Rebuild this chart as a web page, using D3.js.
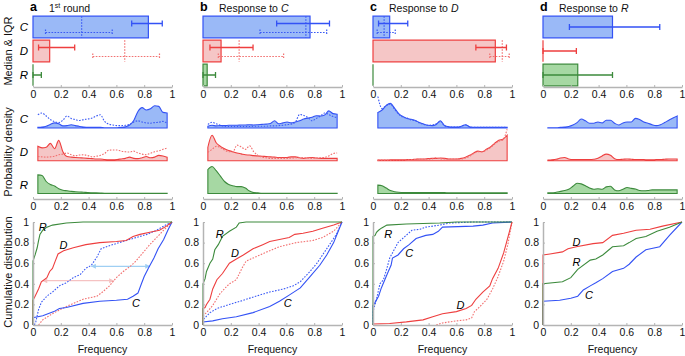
<!DOCTYPE html>
<html><head><meta charset="utf-8">
<script src="https://cdn.jsdelivr.net/npm/d3@7"></script>
<style>
body{margin:0;background:#fff;}
svg{display:block;font-family:"Liberation Sans",Arial,Helvetica,sans-serif;}
</style></head><body>
<svg id="chart" width="685" height="356"></svg>
<script>
// ---------- categories / ticks ----------
const panelLetters = ["a","b","c","d"];
const panelTitleText = ["1","Response to ","Response to ","Response to "];
const panelTitleItalic = ["","C","D","R"];
const categories = ["C","D","R"];
const xTicks = [0,0.2,0.4,0.6,0.8,1];
const xTickLabels = ["0","0.2","0.4","0.6","0.8","1"];
const yTicks = [0,0.2,0.4,0.6,0.8,1];
const yTickLabels = ["0","0.2","0.4","0.6","0.8","1"];

// ---------- Median & IQR (per panel, per category C,D,R) ----------
const medSolid    = [[0.83,0.12,0],[0.77,0.13,0.03],[0.12,0.88,0],[0.5,0,0.25]];
const iqrLoSolid  = [[0.71,0.04,0],[0.53,0.05,0],[0.04,0.74,null],[0.19,0,0]];
const iqrHiSolid  = [[0.93,0.30,0.06],[0.91,0.36,0.09],[0.25,0.96,null],[0.84,0.24,0.5]];
const medDotted   = [[0.35,0.66,null],[0.74,0.26,null],[0.08,0.93,null],[null,null,null]];
const iqrLoDotted = [[0.09,0.43,null],[0.41,0.11,null],[0.03,0.84,null],[null,null,null]];
const iqrHiDotted = [[0.57,0.91,null],[0.89,0.58,null],[0.16,0.98,null],[null,null,null]];

// ---------- Probability density ----------
const densityX = [0.035,0.065,0.095,0.125,0.155,0.185,0.215,0.245,0.275,0.305,0.335,0.365,0.395,0.425,0.455,0.485,
                  0.515,0.545,0.575,0.605,0.635,0.665,0.695,0.725,0.755,0.785,0.815,0.845,0.875,0.905,0.935,0.965];
const densA_C    = [0.2,0.3,0.6,1.2,1.7,1.4,0.7,0.8,1.1,0.8,0.5,0.3,0.2,0.2,0.2,0.2,0.1,0.1,0.1,0.1,0.2,0.4,1.0,2.5,5.5,6.8,6.0,6.4,7.4,7.2,5.2,5.0];
const densA_Cdot = [4.4,5.0,4.0,2.8,2.1,1.8,2.6,4.0,3.2,2.8,2.5,2.8,3.0,3.3,4.0,4.4,2.2,1.3,1.0,0.8,0.8,0.9,1.2,2.0,2.4,2.0,1.7,1.6,1.8,1.9,2.2,1.5];
const densA_D    = [4.8,4.3,4.5,5.8,4.0,6.8,3.0,1.4,1.2,1.1,1.0,0.9,0.8,0.7,0.6,0.6,0.4,0.3,0.3,0.4,0.6,0.8,1.2,0.8,0.7,1.0,1.4,1.0,1.2,1.8,1.6,1.2];
const densA_Ddot = [1.4,1.3,1.2,1.3,1.5,2.0,2.2,2.6,2.0,1.7,1.9,2.0,1.7,1.3,1.5,1.8,2.4,3.5,3.6,3.6,3.2,3.0,2.9,3.2,2.6,2.2,2.0,2.5,3.0,3.3,3.8,4.2];
const densA_R    = [6.2,6.0,4.0,3.0,2.5,1.6,1.1,0.9,0.7,0.6,0.5,0.4,0.3,0.25,0.2,0.15,0.1,0.1,0.1,0.1,0.1,0.1,0.1,0.1,0.1,0.1,0.1,0.1,0.1,0.1,0.1,0.1];

const densB_C    = [0.6,0.9,0.7,0.8,0.8,0.9,0.9,0.9,1.0,1.0,1.1,1.0,1.1,1.2,1.3,1.5,2.4,1.4,1.7,2.0,1.7,2.0,2.4,3.0,3.3,3.6,4.1,4.0,4.3,5.7,4.8,4.6];
const densB_Cdot = [1.2,1.9,1.4,0.9,0.6,0.5,0.5,0.5,0.5,0.5,0.5,0.6,0.6,0.6,0.6,0.7,0.7,0.8,0.9,1.1,1.3,2.0,4.5,4.2,3.5,2.4,3.2,4.0,5.0,4.5,3.8,3.5];
const densB_D    = [4.5,8.5,6.0,4.8,4.0,3.4,3.0,2.6,2.3,2.0,1.9,1.7,1.6,1.5,1.4,1.3,1.2,1.1,1.1,1.1,1.3,1.3,1.0,0.8,1.0,1.1,0.9,0.8,0.8,0.8,0.8,0.8];
const densB_Ddot = [2.8,3.8,4.8,4.4,3.6,3.0,3.0,5.2,4.6,3.8,5.0,3.0,1.8,1.2,1.0,0.8,0.8,0.8,0.8,0.8,0.9,1.0,1.1,1.0,0.9,0.8,0.9,1.0,1.1,1.6,2.4,2.6];
const densB_R    = [8.0,9.0,7.6,5.8,4.0,3.0,2.6,2.3,2.3,1.8,0.8,0.3,0.2,0.1,0.1,0.1,0.1,0.1,0.1,0.1,0.1,0.1,0.1,0.1,0.1,0.1,0.1,0.1,0.1,0.1,0.1,0.1];

const densC_C    = [5.2,6.0,7.5,8.2,6.6,4.8,3.8,3.2,2.9,2.5,1.8,1.3,0.9,0.8,1.2,2.4,0.8,0.4,0.3,0.3,0.6,1.1,0.4,0.2,0.2,0.2,0.2,0.2,0.2,0.2,0.2,0.2];
const densC_Cdot = [10.5,6.5,7.5,8.0,6.3,4.6,3.6,3.3,2.7,2.4,1.7,1.2,0.9,1.0,1.4,2.2,0.7,0.4,0.3,0.3,0.5,1.0,0.4,0.2,0.2,0.2,0.2,0.2,0.2,0.2,0.2,0.2];
const densC_D    = [0.2,0.2,0.2,0.3,0.3,0.3,0.3,0.4,0.4,0.5,0.6,0.6,0.7,0.8,0.8,0.9,0.8,0.6,0.6,0.6,0.8,1.2,1.8,2.6,3.2,3.0,3.8,4.6,5.8,6.8,7.2,8.5];
const densC_Ddot = [0.2,0.2,0.2,0.2,0.3,0.3,0.3,0.3,0.4,0.4,0.5,0.5,0.5,0.6,1.0,0.6,0.6,0.6,0.6,0.6,0.6,0.9,1.5,2.4,3.0,3.0,3.5,4.4,5.6,6.5,7.0,10.5];
const densC_R    = [2.8,2.6,1.8,1.0,0.6,0.4,0.3,0.3,0.3,0.3,0.3,0.3,0.3,0.35,0.35,0.35,0.3,0.2,0.2,0.2,0.2,0.2,0.2,0.2,0.2,0.2,0.2,0.2,0.2,0.2,0.2,0.2];

const densD_C    = [0.1,0.1,0.1,0.2,0.3,0.5,1.0,1.8,3.0,2.4,1.6,1.6,2.0,1.7,2.6,2.6,1.6,1.0,1.7,2.0,2.0,3.2,2.8,2.0,1.6,1.1,0.8,1.1,1.8,2.6,3.3,4.0];
const densD_D    = [0.2,0.3,0.5,0.9,1.1,0.6,0.4,0.4,0.4,0.4,0.4,0.5,0.8,1.6,2.2,1.8,0.7,0.4,0.5,0.6,0.5,0.4,0.4,0.4,0.3,0.3,0.4,0.4,0.5,0.6,0.6,0.6];
const densD_R    = [0.2,0.2,0.4,0.7,1.0,1.4,2.4,3.4,3.2,2.6,1.8,1.4,1.6,1.4,2.2,2.4,1.2,0.9,1.4,2.0,1.7,1.5,1.0,0.9,1.0,1.2,1.2,1.2,1.2,1.2,1.2,1.2];

const densSolid  = [[densA_C,densA_D,densA_R],[densB_C,densB_D,densB_R],[densC_C,densC_D,densC_R],[densD_C,densD_D,densD_R]];
const densDotted = [[densA_Cdot,densA_Ddot,null],[densB_Cdot,densB_Ddot,null],[densC_Cdot,densC_Ddot,null],[null,null,null]];

// ---------- Cumulative distribution ([frequency, F]) ----------
const cdfA_C    = [[0,0],[0,0.07],[0.07,0.09],[0.15,0.13],[0.19,0.16],[0.24,0.17],[0.36,0.21],[0.48,0.23],[0.6,0.24],[0.68,0.25],[0.72,0.28],[0.755,0.31],[0.78,0.40],[0.8,0.47],[0.83,0.55],[0.87,0.65],[0.9,0.74],[0.94,0.83],[0.97,0.92],[1,1]];
const cdfA_Cdot = [[0.01,0],[0.02,0.03],[0.04,0.15],[0.06,0.22],[0.1,0.28],[0.14,0.32],[0.19,0.38],[0.24,0.41],[0.29,0.46],[0.34,0.49],[0.38,0.55],[0.42,0.58],[0.46,0.66],[0.49,0.74],[0.55,0.77],[0.62,0.80],[0.72,0.84],[0.82,0.88],[0.89,0.92],[0.94,0.96],[1,1]];
const cdfA_D    = [[0,0],[0,0.24],[0.015,0.28],[0.04,0.35],[0.06,0.42],[0.1,0.46],[0.12,0.52],[0.14,0.55],[0.16,0.62],[0.18,0.69],[0.22,0.72],[0.29,0.75],[0.38,0.78],[0.48,0.80],[0.6,0.81],[0.67,0.82],[0.72,0.86],[0.77,0.88],[0.84,0.90],[0.91,0.92],[0.96,0.96],[1,1]];
const cdfA_Ddot = [[0.04,0],[0.07,0.05],[0.14,0.11],[0.24,0.18],[0.36,0.25],[0.46,0.28],[0.5,0.32],[0.55,0.38],[0.6,0.46],[0.65,0.52],[0.7,0.57],[0.74,0.62],[0.79,0.70],[0.84,0.78],[0.89,0.85],[0.94,0.92],[1,1]];
const cdfA_R    = [[0,0],[0,0.62],[0.015,0.68],[0.03,0.75],[0.04,0.82],[0.05,0.88],[0.07,0.92],[0.1,0.95],[0.14,0.97],[0.24,0.99],[0.36,1],[1,1]];

const cdfB_C    = [[0,0],[0,0.03],[0.07,0.04],[0.14,0.06],[0.24,0.08],[0.36,0.12],[0.48,0.18],[0.55,0.23],[0.62,0.29],[0.7,0.36],[0.77,0.47],[0.84,0.58],[0.89,0.68],[0.94,0.80],[0.97,0.90],[1,1]];
const cdfB_Cdot = [[0,0],[0,0.05],[0.05,0.12],[0.1,0.16],[0.19,0.20],[0.29,0.24],[0.38,0.28],[0.48,0.32],[0.58,0.35],[0.65,0.38],[0.7,0.42],[0.77,0.52],[0.82,0.60],[0.86,0.68],[0.91,0.78],[0.96,0.88],[1,1]];
const cdfB_D    = [[0,0],[0,0.16],[0.015,0.17],[0.025,0.2],[0.05,0.25],[0.07,0.35],[0.1,0.44],[0.14,0.50],[0.19,0.60],[0.24,0.64],[0.29,0.68],[0.36,0.74],[0.43,0.78],[0.48,0.81],[0.55,0.83],[0.62,0.85],[0.66,0.88],[0.72,0.89],[0.79,0.91],[0.86,0.94],[0.94,0.97],[1,1]];
const cdfB_Ddot = [[0,0],[0,0.09],[0.025,0.12],[0.07,0.19],[0.12,0.30],[0.16,0.36],[0.19,0.40],[0.24,0.44],[0.28,0.55],[0.31,0.62],[0.36,0.65],[0.46,0.71],[0.55,0.76],[0.67,0.80],[0.79,0.82],[0.86,0.85],[0.94,0.91],[1,1]];
const cdfB_R    = [[0,0],[0,0.40],[0.015,0.45],[0.025,0.52],[0.05,0.60],[0.07,0.64],[0.085,0.73],[0.11,0.78],[0.14,0.86],[0.19,0.91],[0.24,0.95],[0.26,0.99],[0.31,1],[1,1]];

const cdfC_C    = [[0,0],[0,0.19],[0.015,0.22],[0.04,0.28],[0.06,0.36],[0.085,0.44],[0.11,0.52],[0.13,0.58],[0.14,0.65],[0.18,0.68],[0.22,0.74],[0.26,0.78],[0.31,0.84],[0.38,0.87],[0.43,0.88],[0.47,0.91],[0.5,0.95],[0.72,0.96],[0.79,0.97],[0.86,0.99],[1,1]];
const cdfC_Cdot = [[0,0],[0,0.13],[0.025,0.25],[0.05,0.40],[0.075,0.44],[0.1,0.55],[0.12,0.65],[0.14,0.70],[0.18,0.80],[0.23,0.86],[0.28,0.92],[0.34,0.93],[0.38,0.95],[0.48,0.97],[0.55,0.99],[0.72,1],[1,1]];
const cdfC_D    = [[0,0],[0,0.01],[0.12,0.015],[0.24,0.03],[0.36,0.05],[0.43,0.08],[0.5,0.11],[0.6,0.13],[0.67,0.16],[0.71,0.19],[0.74,0.25],[0.79,0.32],[0.84,0.38],[0.86,0.45],[0.9,0.55],[0.94,0.70],[0.96,0.80],[0.98,0.90],[1,1]];
const cdfC_Ddot = [[0.455,0],[0.5,0.02],[0.6,0.04],[0.67,0.05],[0.71,0.07],[0.73,0.13],[0.77,0.18],[0.82,0.25],[0.86,0.35],[0.9,0.47],[0.94,0.62],[0.97,0.78],[1,1]];
const cdfC_R    = [[0,0],[0,0.86],[0.015,0.87],[0.025,0.9],[0.04,0.92],[0.06,0.94],[0.1,0.97],[0.24,0.98],[0.48,0.99],[0.6,1],[1,1]];

const cdfD_C    = [[0,0],[0,0.23],[0.12,0.24],[0.2,0.26],[0.25,0.28],[0.29,0.34],[0.34,0.38],[0.38,0.41],[0.43,0.45],[0.5,0.52],[0.58,0.55],[0.62,0.59],[0.67,0.66],[0.74,0.73],[0.84,0.76],[0.91,0.87],[1,1]];
const cdfD_D    = [[0,0],[0,0.68],[0.05,0.69],[0.14,0.71],[0.18,0.74],[0.24,0.76],[0.36,0.79],[0.43,0.80],[0.5,0.87],[0.58,0.89],[0.67,0.92],[0.77,0.93],[0.86,0.96],[1,1]];
const cdfD_R    = [[0,0],[0,0.40],[0.14,0.42],[0.2,0.46],[0.25,0.54],[0.34,0.63],[0.38,0.64],[0.43,0.68],[0.5,0.76],[0.58,0.77],[0.62,0.80],[0.67,0.84],[0.74,0.86],[0.82,0.91],[0.91,0.95],[1,1]];

const cdfSolid  = [[cdfA_C,cdfA_D,cdfA_R],[cdfB_C,cdfB_D,cdfB_R],[cdfC_C,cdfC_D,cdfC_R],[cdfD_C,cdfD_D,cdfD_R]];
const cdfDotted = [[cdfA_Cdot,cdfA_Ddot,null],[cdfB_Cdot,cdfB_Ddot,null],[cdfC_Cdot,cdfC_Ddot,null],[null,null,null]];

// curve label anchors (frequency, F) for C, D, R
const cdfLabelX = [[0.74,0.22,0.07],[0.61,0.23,0.12],[0.26,0.63,0.11],[0.33,0.24,0.24]];
const cdfLabelY = [[0.21,0.78,0.95],[0.21,0.70,0.886],[0.70,0.195,0.886],[0.29,0.80,0.61]];

// double arrows in panel a (shift between curves)
const arrowF  = [0.57, 0.43];
const arrowX1 = [0.42, 0.07];
const arrowX2 = [0.84, 0.58];

// ---------- styles ----------
const strokeCol = {C:"#3352f5", D:"#ee3f3f", R:"#3c8a3c"};
const fillCol   = {C:"#9ab9f7", D:"#f5c6c6", R:"#a6d8a3"};
const dotCol    = {C:"#3a5af5", D:"#f27070"};
const arrowCol  = ["#9fcff3", "#f5c2c2"];
const axisCol   = "#b4b4b4";

const svg = d3.select("#chart");
const defs = svg.append("defs");
arrowCol.forEach((c,k)=>{
  defs.append("marker").attr("id","ah"+k).attr("viewBox","0 0 10 10")
    .attr("refX",9).attr("refY",5).attr("markerWidth",6).attr("markerHeight",5)
    .attr("orient","auto-start-reverse").attr("markerUnits","userSpaceOnUse")
    .append("path").attr("d","M0,0 L10,5 L0,10 Z").attr("fill",c);
});

const FS = 10.5;

// vertical axis titles
[["Median & IQR",51],["Probability density",152],["Cumulative distribution",272]].forEach(([t,cy])=>{
  svg.append("text").attr("transform",`translate(12,${cy}) rotate(-90)`)
    .attr("text-anchor","middle").attr("font-size",11).attr("fill","#111").text(t);
});

function styleAxis(g){
  g.select(".domain").attr("stroke",axisCol).attr("stroke-width",1.5);
  g.selectAll(".tick line").attr("stroke",axisCol).attr("stroke-width",1);
  g.selectAll(".tick text").attr("fill","#111").attr("font-size",FS).attr("font-family",null);
}

panelLetters.forEach((letter,i)=>{
  const x = d3.scaleLinear().domain([0,1]).range([33+170*i, 172+170*i]);
  const yBand = d3.scaleBand().domain(categories).range([15,87]).paddingInner(0.1).paddingOuter(0.05);
  const yRow = d3.scalePoint().domain(categories).range([128,193.5]);
  const hDen = d3.scaleLinear().domain([0,10]).range([0,30]);
  const yCdf = d3.scaleLinear().domain([0,1]).range([325,222]);
  const g = svg.append("g");

  // panel title
  g.append("text").attr("x",x(0)-3).attr("y",11).attr("font-size",12.5).attr("font-weight","bold").text(letter);
  const tt = g.append("text").attr("x",x(0)+16).attr("y",12).attr("font-size",10.5).attr("fill","#111");
  tt.append("tspan").text(panelTitleText[i]);
  if(i===0){
    tt.append("tspan").attr("font-size",7).attr("dy",-4).text("st");
    tt.append("tspan").attr("dy",4).text(" round");
  } else {
    tt.append("tspan").attr("font-style","italic").text(panelTitleItalic[i]);
  }

  // ---- Median & IQR ----
  const bw = yBand.bandwidth();
  categories.forEach((c,j)=>{
    const m = medSolid[i][j];
    if(m!==null){
      const y0 = yBand(c), y1 = y0+bw;
      g.append("path").attr("d",`M${x(0)},${y0}H${x(m)}V${y1}H${x(0)}Z`)
        .attr("fill",fillCol[c]).attr("stroke",strokeCol[c]).attr("stroke-width",1.2);
    }
  });
  categories.forEach((c,j)=>{
    const hasDot = medDotted[i][j]!==null;
    const cy = yBand(c)+bw/2;
    if(hasDot){
      const md = medDotted[i][j];
      g.append("line").attr("x1",x(md)).attr("x2",x(md)).attr("y1",yBand(c)).attr("y2",yBand(c)+bw)
        .attr("stroke",dotCol[c]).attr("stroke-width",1.2).attr("stroke-dasharray","1.6,1.4");
      const yd = cy+5.5, lo=iqrLoDotted[i][j], hi=iqrHiDotted[i][j];
      const dp = `M${x(lo)},${yd}H${x(hi)}M${x(lo)},${yd-3}V${yd+3}M${x(hi)},${yd-3}V${yd+3}`;
      g.append("path").attr("d",dp).attr("fill","none").attr("stroke",dotCol[c]).attr("stroke-width",1.2).attr("stroke-dasharray","1.6,1.4");
    }
    const lo=iqrLoSolid[i][j], hi=iqrHiSolid[i][j];
    if(lo!==null){
      const ys = hasDot ? cy-3.5 : cy;
      const sp = `M${x(lo)},${ys}H${x(hi)}M${x(lo)},${ys-3}V${ys+3}M${x(hi)},${ys-3}V${ys+3}`;
      g.append("path").attr("d",sp).attr("fill","none").attr("stroke",strokeCol[c]).attr("stroke-width",1.3);
    }
  });
  const axTop = g.append("g").attr("transform","translate(0,87)")
    .call(d3.axisBottom(x).tickValues(xTicks).tickFormat((d,k)=>xTickLabels[k]).tickSizeInner(-2).tickSizeOuter(0).tickPadding(4));
  styleAxis(axTop);
  if(i===0){
    categories.forEach(c=>{
      g.append("text").attr("x",24).attr("y",yBand(c)+bw/2).attr("dy","0.35em").attr("text-anchor","middle")
        .attr("font-size",11.5).attr("font-style","italic").text(c);
    });
  }

  // ---- Probability density ----
  categories.forEach((c,j)=>{
    const base = yRow(c);
    const data = densSolid[i][j];
    const area = d3.area().x((d,k)=>x(densityX[k])).y0(base).y1(d=>base-hDen(d)).curve(d3.curveMonotoneX);
    g.append("path").attr("d",area(data)).attr("fill",fillCol[c]).attr("stroke",strokeCol[c]).attr("stroke-width",1.1);
    const dd = densDotted[i][j];
    if(dd){
      const line = d3.line().x((d,k)=>x(densityX[k])).y(d=>base-hDen(d)).curve(d3.curveMonotoneX);
      g.append("path").attr("d",line(dd)).attr("fill","none").attr("stroke",dotCol[c]).attr("stroke-width",1.1).attr("stroke-dasharray","1.6,1.4");
    }
    if(i===0){
      g.append("text").attr("x",24).attr("y",base-9).attr("dy","0.35em").attr("text-anchor","middle")
        .attr("font-size",11.5).attr("font-style","italic").text(c);
    }
  });
  const axMid = g.append("g").attr("transform","translate(0,199)")
    .call(d3.axisBottom(x).tickValues(xTicks).tickFormat((d,k)=>xTickLabels[k]).tickSizeInner(-2).tickSizeOuter(0).tickPadding(4));
  styleAxis(axMid);

  // ---- Cumulative distribution ----
  const ln = d3.line().x(d=>x(d[0])).y(d=>yCdf(d[1]));
  if(i===0){
    arrowF.forEach((f,k)=>{
      g.append("line").attr("x1",x(arrowX1[k])).attr("x2",x(arrowX2[k])).attr("y1",yCdf(f)).attr("y2",yCdf(f))
        .attr("stroke",arrowCol[k]).attr("stroke-width",1.3)
        .attr("marker-start",`url(#ah${k})`).attr("marker-end",`url(#ah${k})`);
    });
  }
  categories.forEach((c,j)=>{
    const dd = cdfDotted[i][j];
    if(dd) g.append("path").attr("d",ln(dd)).attr("fill","none").attr("stroke",dotCol[c]).attr("stroke-width",1.1).attr("stroke-dasharray","1.6,1.4");
  });
  categories.forEach((c,j)=>{
    g.append("path").attr("d",ln(cdfSolid[i][j])).attr("fill","none").attr("stroke",strokeCol[c]).attr("stroke-width",1.1);
  });
  categories.forEach((c,j)=>{
    g.append("text").attr("x",x(cdfLabelX[i][j])).attr("y",yCdf(cdfLabelY[i][j])).attr("dy","0.35em")
      .attr("text-anchor","middle").attr("font-size",11).attr("font-style","italic").text(c);
  });
  const axB = g.append("g").attr("transform","translate(0,325)")
    .call(d3.axisBottom(x).tickValues(xTicks).tickFormat((d,k)=>xTickLabels[k]).tickSizeInner(-2).tickSizeOuter(0).tickPadding(4));
  styleAxis(axB);
  const axL = g.append("g").attr("transform",`translate(${x(0)},0)`)
    .call(d3.axisLeft(yCdf).tickValues(yTicks).tickFormat((d,k)=>yTickLabels[k]).tickSizeInner(-2).tickSizeOuter(0).tickPadding(4));
  styleAxis(axL);
  g.append("text").attr("x",(x(0)+x(1))/2).attr("y",353).attr("text-anchor","middle").attr("font-size",FS).attr("fill","#111").text("Frequency");
});
</script>
</body></html>
